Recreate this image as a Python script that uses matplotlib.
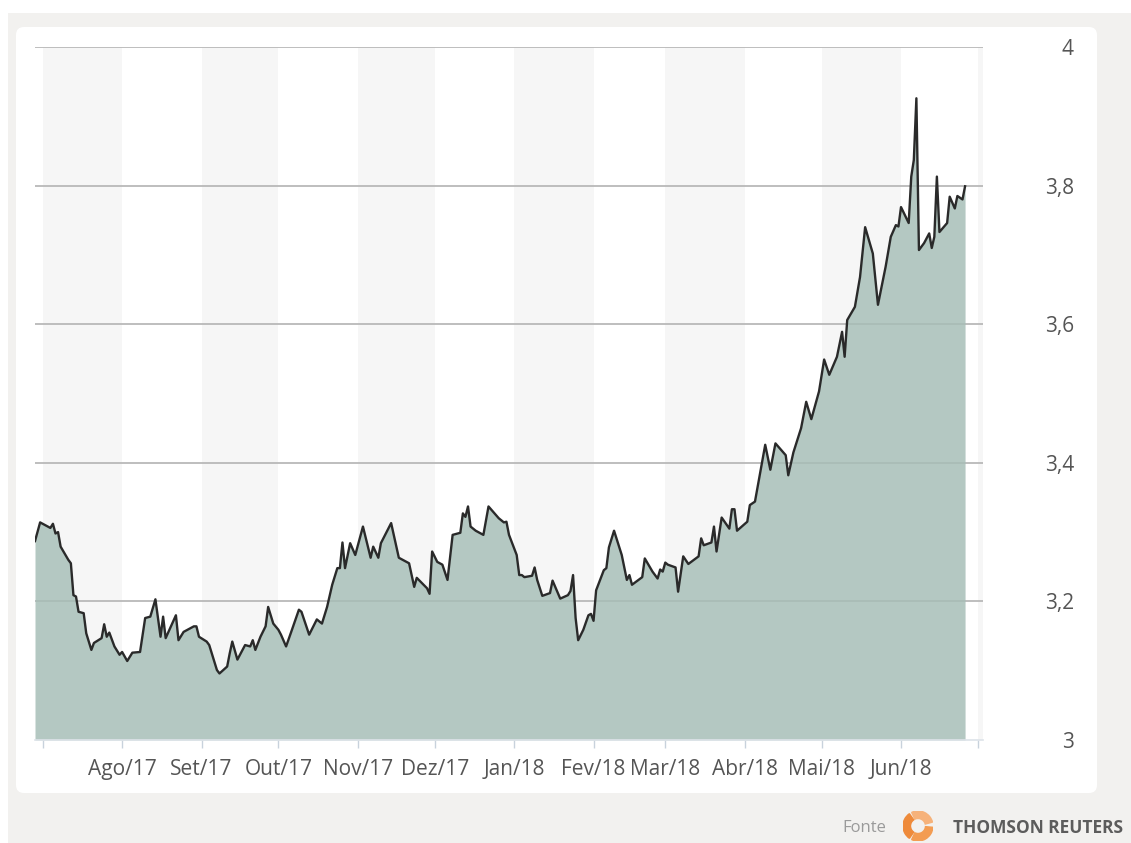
import numpy as np
import pandas as pd
import matplotlib
matplotlib.use('Agg')
import matplotlib.pyplot as plt
from matplotlib.patches import FancyBboxPatch, Rectangle, Wedge
from matplotlib.transforms import IdentityTransform

plt.rcParams['font.family'] = ['Open Sans', 'DejaVu Sans']

dates = ['2017-06-28', '2017-06-30', '2017-07-02', '2017-07-04', '2017-07-05', '2017-07-06', '2017-07-07',
         '2017-07-08', '2017-07-11', '2017-07-12', '2017-07-13', '2017-07-14', '2017-07-15', '2017-07-17',
         '2017-07-18', '2017-07-20', '2017-07-21', '2017-07-24', '2017-07-25', '2017-07-26', '2017-07-27',
         '2017-07-29', '2017-07-31', '2017-08-01', '2017-08-03', '2017-08-05', '2017-08-08', '2017-08-10',
         '2017-08-12', '2017-08-14', '2017-08-16', '2017-08-17', '2017-08-18', '2017-08-22', '2017-08-23',
         '2017-08-25', '2017-08-29', '2017-08-30', '2017-08-31', '2017-09-03', '2017-09-04', '2017-09-07',
         '2017-09-08', '2017-09-11', '2017-09-12', '2017-09-13', '2017-09-15', '2017-09-18', '2017-09-20',
         '2017-09-21', '2017-09-22', '2017-09-24', '2017-09-26', '2017-09-27', '2017-09-29', '2017-10-01',
         '2017-10-02', '2017-10-04', '2017-10-06', '2017-10-09', '2017-10-10', '2017-10-13', '2017-10-16',
         '2017-10-18', '2017-10-20', '2017-10-22', '2017-10-24', '2017-10-25', '2017-10-26', '2017-10-27',
         '2017-10-29', '2017-10-31', '2017-11-03', '2017-11-06', '2017-11-07', '2017-11-09', '2017-11-10',
         '2017-11-14', '2017-11-17', '2017-11-21', '2017-11-23', '2017-11-24', '2017-11-28', '2017-11-29',
         '2017-11-30', '2017-12-02', '2017-12-04', '2017-12-06', '2017-12-08', '2017-12-11', '2017-12-12',
         '2017-12-13', '2017-12-14', '2017-12-15', '2017-12-17', '2017-12-20', '2017-12-22', '2017-12-26',
         '2017-12-28', '2017-12-29', '2017-12-30', '2018-01-02', '2018-01-03', '2018-01-04', '2018-01-05',
         '2018-01-08', '2018-01-09', '2018-01-10', '2018-01-12', '2018-01-15', '2018-01-16', '2018-01-19',
         '2018-01-22', '2018-01-23', '2018-01-24', '2018-01-25', '2018-01-26', '2018-01-28', '2018-01-30',
         '2018-01-31', '2018-02-01', '2018-02-02', '2018-02-05', '2018-02-06', '2018-02-07', '2018-02-09',
         '2018-02-12', '2018-02-14', '2018-02-15', '2018-02-16', '2018-02-20', '2018-02-21', '2018-02-24',
         '2018-02-26', '2018-02-27', '2018-02-28', '2018-03-01', '2018-03-02', '2018-03-05', '2018-03-06',
         '2018-03-08', '2018-03-10', '2018-03-14', '2018-03-15', '2018-03-16', '2018-03-19', '2018-03-20',
         '2018-03-21', '2018-03-23', '2018-03-26', '2018-03-27', '2018-03-28', '2018-03-29', '2018-04-02',
         '2018-04-03', '2018-04-05', '2018-04-07', '2018-04-09', '2018-04-11', '2018-04-13', '2018-04-17',
         '2018-04-18', '2018-04-20', '2018-04-23', '2018-04-25', '2018-04-27', '2018-04-30', '2018-05-02',
         '2018-05-04', '2018-05-07', '2018-05-09', '2018-05-10', '2018-05-11', '2018-05-14', '2018-05-16',
         '2018-05-18', '2018-05-21', '2018-05-23', '2018-05-26', '2018-05-28', '2018-05-30', '2018-05-31',
         '2018-06-01', '2018-06-04', '2018-06-05', '2018-06-06', '2018-06-07', '2018-06-08', '2018-06-10',
         '2018-06-12', '2018-06-13', '2018-06-14', '2018-06-15', '2018-06-16', '2018-06-19', '2018-06-20',
         '2018-06-22', '2018-06-23', '2018-06-25', '2018-06-26']
values = [3.287, 3.314, 3.310, 3.306, 3.312, 3.298, 3.300,
          3.279, 3.260, 3.255, 3.209, 3.207, 3.185, 3.183,
          3.154, 3.130, 3.140, 3.147, 3.167, 3.149, 3.155,
          3.135, 3.123, 3.127, 3.114, 3.126, 3.127, 3.176,
          3.178, 3.203, 3.149, 3.178, 3.147, 3.180, 3.144,
          3.156, 3.164, 3.164, 3.149, 3.142, 3.137, 3.101,
          3.096, 3.106, 3.125, 3.142, 3.116, 3.137, 3.135,
          3.144, 3.130, 3.149, 3.164, 3.192, 3.168, 3.159,
          3.152, 3.135, 3.156, 3.188, 3.185, 3.152, 3.174,
          3.168, 3.192, 3.224, 3.248, 3.248, 3.285, 3.248,
          3.284, 3.267, 3.308, 3.263, 3.279, 3.263, 3.284,
          3.313, 3.263, 3.255, 3.221, 3.234, 3.219, 3.211,
          3.272, 3.257, 3.253, 3.231, 3.296, 3.299, 3.327,
          3.322, 3.337, 3.308, 3.302, 3.296, 3.337, 3.320,
          3.314, 3.315, 3.296, 3.267, 3.238, 3.238, 3.235,
          3.237, 3.249, 3.231, 3.208, 3.212, 3.230, 3.204,
          3.209, 3.215, 3.238, 3.176, 3.144, 3.159, 3.180,
          3.182, 3.172, 3.216, 3.245, 3.248, 3.278, 3.302,
          3.267, 3.231, 3.238, 3.224, 3.235, 3.262, 3.243,
          3.233, 3.246, 3.243, 3.256, 3.253, 3.249, 3.214,
          3.265, 3.254, 3.265, 3.291, 3.281, 3.285, 3.308,
          3.272, 3.321, 3.305, 3.333, 3.333, 3.302, 3.315,
          3.339, 3.344, 3.385, 3.426, 3.390, 3.428, 3.411,
          3.382, 3.415, 3.450, 3.488, 3.463, 3.503, 3.549,
          3.527, 3.553, 3.589, 3.553, 3.606, 3.625, 3.668,
          3.740, 3.702, 3.628, 3.683, 3.726, 3.743, 3.741,
          3.769, 3.746, 3.813, 3.837, 3.926, 3.707, 3.717,
          3.731, 3.710, 3.726, 3.813, 3.733, 3.746, 3.784,
          3.767, 3.785, 3.780, 3.799]

month_starts = ['2017-07-01', '2017-08-01', '2017-09-01', '2017-10-01', '2017-11-01', '2017-12-01',
                '2018-01-01', '2018-02-01', '2018-03-01', '2018-04-01', '2018-05-01', '2018-06-01',
                '2018-07-01']
month_labels = ['', 'Ago/17', 'Set/17', 'Out/17', 'Nov/17', 'Dez/17', 'Jan/18', 'Fev/18', 'Mar/18',
                'Abr/18', 'Mai/18', 'Jun/18', '']
y_ticks = [3, 3.2, 3.4, 3.6, 3.8, 4]
y_labels = ['3', '3,2', '3,4', '3,6', '3,8', '4']

dates = pd.to_datetime(dates)
months = pd.to_datetime(month_starts)

#%% figure + background card
fig = plt.figure(figsize=(11.31, 8.43), dpi=100)
fig.patch.set_facecolor('white')
fig.add_artist(Rectangle((8, 0), 1131, 843 - 13, transform=IdentityTransform(),
                         fc='#f2f1ef', ec='none', zorder=-3))
fig.add_artist(FancyBboxPatch((16, 843 - 793), 1097 - 16, 793 - 27,
                              boxstyle='round,pad=0,rounding_size=8', transform=IdentityTransform(),
                              fc='white', ec='none', zorder=-2))

ax = fig.add_axes([35 / 1131, 103 / 843, 948 / 1131, 693 / 843])
ax.set_facecolor('white')

# alternating month bands
band_edges = list(months) + [pd.Timestamp('2018-08-01')]
for i in range(0, len(band_edges) - 1, 2):
    ax.axvspan(band_edges[i], band_edges[i + 1], color='#f6f6f6', lw=0, zorder=0)

for y in y_ticks[1:]:
    ax.axhline(y, color='#c6c6c6', lw=1.3, zorder=1)

ax.fill_between(dates, values, 3, color='#b4c8c2', lw=0, zorder=2)
for y in y_ticks[1:]:
    ax.axhline(y, color='black', alpha=0.06, lw=1.3, zorder=2.5)
ax.plot(dates, values, color='#2a2a2a', lw=1.7, zorder=3)

ax.set_xlim(dates[0], pd.Timestamp('2018-07-03'))
ax.set_ylim(3, 4)

for s in ['top', 'left', 'right']:
    ax.spines[s].set_visible(False)
ax.spines['bottom'].set_color('#dde3e9')
ax.spines['bottom'].set_linewidth(1.2)

ax.set_xticks(months)
ax.set_xticklabels(month_labels)
ax.tick_params(axis='x', length=6, width=1, color='#c8d2dc', pad=8, labelsize=15, labelcolor='#555555')

ax.yaxis.tick_right()
ax.set_yticks(y_ticks)
ax.set_yticklabels(y_labels)
ax.tick_params(axis='y', length=0, pad=65.5, labelsize=15, labelcolor='#555555')
for lbl in ax.get_yticklabels():
    lbl.set_horizontalalignment('right')

#%% footer
fig.text(886 / 1131, 1 - 828 / 843, 'Fonte', ha='right', va='center', fontsize=12, color='#9a9a9a')
fig.text(953 / 1131, 1 - 828 / 843, 'THOMSON REUTERS', ha='left', va='center', fontsize=12.5,
         fontweight='bold', color='#5c5c5c')
lax = fig.add_axes([(918 - 15) / 1131, (843 - 826 - 15) / 843, 30 / 1131, 30 / 843])
lax.set_xlim(-1, 1)
lax.set_ylim(-1, 1)
lax.set_aspect('equal')
lax.axis('off')
for t1, t2, c in [(15, 115, '#f6b27a'), (125, 235, '#ee8a3a'), (245, 355, '#f39c52')]:
    lax.add_patch(Wedge((0, 0), 1, t1, t2, width=0.5, color=c))

#%% save
fig.savefig('out.png', dpi=100)
